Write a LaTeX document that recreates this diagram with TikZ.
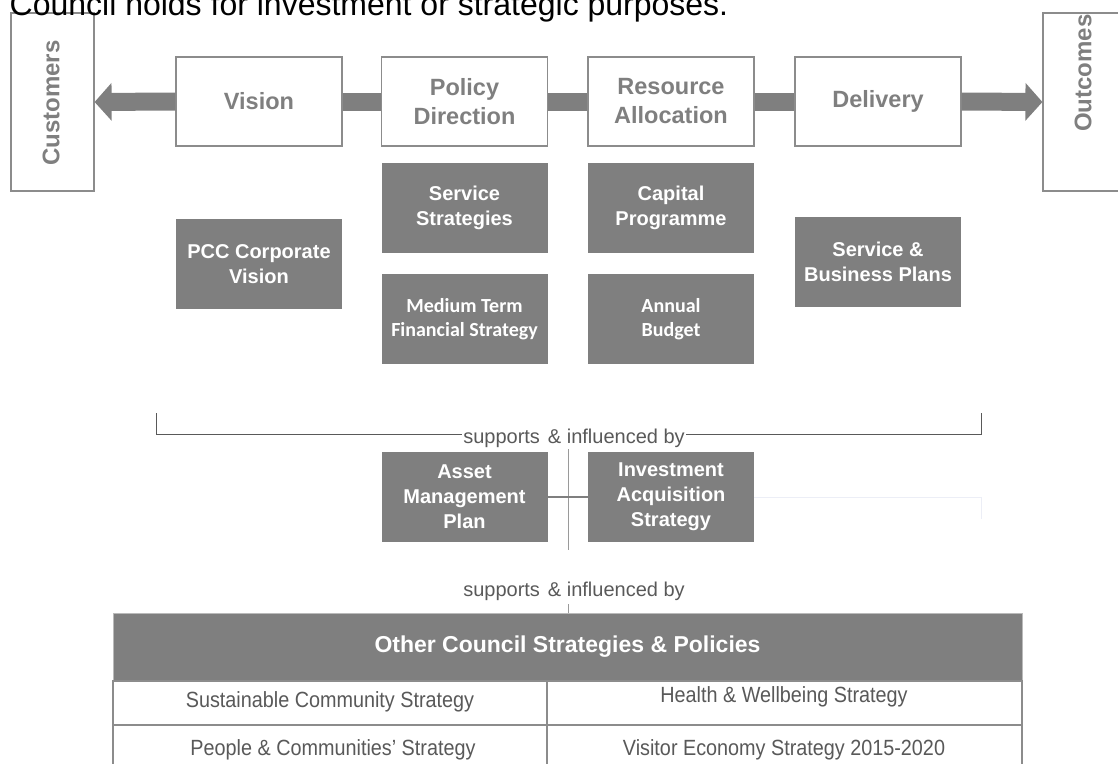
\documentclass[tikz,border=0pt]{standalone}
\usepackage{fontspec}
\setmainfont{Liberation Sans}
\newfontfamily\narrowsans[FakeStretch=0.9]{Liberation Sans}
\newfontfamily\calsans{Carlito}
\usetikzlibrary{arrows.meta}
\definecolor{boxgray}{HTML}{7F7F7F}
\definecolor{edgegray}{HTML}{8C8C8C}
\definecolor{textgray}{HTML}{595959}
\definecolor{linegray}{HTML}{9A9A9A}
\definecolor{faintblue}{HTML}{ECEEF6}

\begin{document}
\begin{tikzpicture}[x=1pt, y=-1pt,
  stage/.style={draw=edgegray, line width=1.2pt, fill=white, inner sep=0pt,
    minimum width=166pt, minimum height=89pt, align=center, text=boxgray,
    font=\fontsize{23.5}{29}\selectfont\bfseries},
  sidebox/.style={draw=edgegray, line width=1.2pt, fill=white, inner sep=0pt,
    minimum width=83pt, minimum height=178pt},
  sidelabel/.style={rotate=90, inner sep=0pt, text=boxgray,
    font=\fontsize{24}{28}\selectfont\bfseries},
  block/.style={fill=boxgray, draw=none, inner sep=0pt, minimum width=166pt,
    minimum height=90pt, align=center, text=white,
    font=\fontsize{20}{25}\selectfont\bfseries},
  calblock/.style={block, font=\calsans\fontsize{20}{24}\selectfont\bfseries},
  bar/.style={draw=boxgray, line width=18pt},
  bigtip/.style={-{Triangle[length=17pt, width=37pt]}},
  bracketline/.style={draw=textgray, line width=1pt},
  midline/.style={draw=linegray, line width=1pt},
  linkline/.style={draw=boxgray, line width=1.2pt},
  faintline/.style={draw=faintblue, line width=1pt},
  supports/.style={anchor=base, inner xsep=1.5pt, inner ysep=1pt, fill=white,
    text=textgray, font=\fontsize{20}{24}\selectfont},
  header/.style={fill=boxgray, draw=edgegray!60, line width=1pt, inner sep=0pt,
    minimum width=909pt, minimum height=68pt, text=white,
    font=\fontsize{23}{28}\selectfont\bfseries},
  cell/.style={draw=edgegray, line width=1.5pt, fill=white, inner sep=0pt,
    minimum height=44pt},
  celltext/.style={anchor=base, inner sep=0pt, text=textgray,
    font=\narrowsans\fontsize{22}{26}\selectfont}
]
\useasboundingbox (0,0) rectangle (1118,763);
\clip (0,0) rectangle (1118,763);

% main process chain
\node[sidebox] (customers) at (52.5,102) {};
\node[sidelabel] (customerslbl) at (51,103) {Customers};
\node[sidebox] (outcomes) at (1084.5,102) {};
\node[sidelabel] (outcomeslbl) at (1083,73) {Outcomes};

\node[stage] (vision) at (259,101.5) {Vision};
\node[stage] (policy) at (464.5,101.5) {Policy\\Direction};
\node[stage] (resource) at (671,101.5) {Resource\\Allocation};
\node[stage] (delivery) at (878,101.5) {Delivery};

\draw[bar, bigtip] (vision.west) -- (customers.east);
\draw[bar] (vision.east) -- (policy.west);
\draw[bar] (policy.east) -- (resource.west);
\draw[bar] (resource.east) -- (delivery.west);
\draw[bar, bigtip] (delivery.east) -- (outcomes.west);

% heading line running off the top
\node[anchor=base west, inner sep=0pt, font=\fontsize{32}{38}\selectfont]
  (title) at (9.5,15) {Council holds for investment or strategic purposes.};

% supporting documents
\node[block] (pcc) at (259,264) {PCC Corporate\\Vision};
\node[block] (servstrat) at (464.5,208) {Service\\Strategies};
\node[block] (capital) at (671,208) {Capital\\Programme};
\node[calblock] (mtfs) at (464.5,319) {Medium Term\\Financial Strategy};
\node[calblock] (budget) at (671,319) {Annual\\Budget};
\node[block] (sbp) at (878,262) {Service \&\\Business Plans};

% bracket gathering the plans
\coordinate (brLtop) at (156,413);
\coordinate (brLbot) at (156,434);
\coordinate (brRbot) at (981,434);
\coordinate (brRtop) at (981,413);
\draw[bracketline] (brLtop) -- (brLbot) -- (brRbot) -- (brRtop);
\node[supports] (sup1) at (574,443) {supports\hspace{0.12em} \& influenced by};

% asset plans
\coordinate (vtop) at (568,449);
\coordinate (vbot) at (568,550);
\draw[midline] (vtop) -- (vbot);
\node[block] (asset) at (464.5,497) {Asset\\Management\\Plan};
\node[block] (invest) at (671,497) {Investment\\Acquisition\\Strategy};
\draw[linkline] (asset.east) -- (invest.west);
\coordinate (faintcorner) at (981,497);
\coordinate (faintend) at (981,519);
\draw[faintline] (invest.east) -- (faintcorner) -- (faintend);

\node[supports, fill=none] (sup2) at (574,596) {supports\hspace{0.12em} \& influenced by};

% table of other strategies
\node[header] (header) at (567.5,647) {Other Council Strategies \& Policies};
\coordinate (ticktop) at (568,604);
\draw[midline] (ticktop) -- (ticktop |- header.north);

\node[cell, minimum width=434pt] (c11) at (330,703) {};
\node[cell, minimum width=475pt] (c12) at (784.5,703) {};
\node[cell, minimum width=434pt] (c21) at (330,747) {};
\node[cell, minimum width=475pt] (c22) at (784.5,747) {};

\node[celltext] (t11) at (330,707) {Sustainable Community Strategy};
\node[celltext] (t12) at (784,702) {Health \& Wellbeing Strategy};
\node[celltext] (t21) at (333,755.5) {People \& Communities’ Strategy};
\node[celltext] (t22) at (784,755.5) {Visitor Economy Strategy 2015-2020};
\end{tikzpicture}
\end{document}
